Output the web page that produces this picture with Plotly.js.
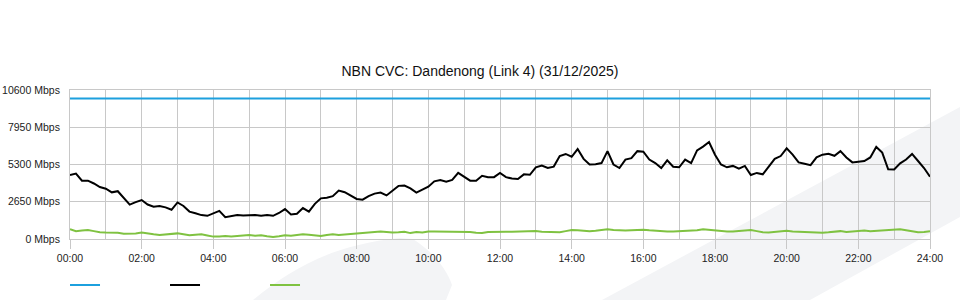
<!DOCTYPE html>
<html><head><meta charset="utf-8">
<script src="https://cdn.plot.ly/plotly-3.0.1.min.js"></script>
<style>html,body{margin:0;padding:0;background:#fff}#chart{width:960px;height:300px}</style>
</head><body><div id="chart"></div>
<script>
// 10-minute samples, 00:00 .. 24:00
const sampleMinutes = 10;
const inboundMbps = [
 4550,4650,4150,4150,3950,3700,3580,3320,3400,2900,2450,2620,2770,2450,2300,2350,2250,2080,
 2600,2350,1950,1830,1700,1650,1830,2000,1550,1650,1700,1680,1700,1700,1660,1700,1650,1850,
 2130,1750,1800,2200,1950,2500,2890,2940,3050,3450,3330,3100,2850,2800,3050,3230,3300,3100,
 3450,3780,3800,3600,3300,3500,3720,4100,4190,4080,4200,4700,4450,4150,4150,4500,4400,4400,
 4700,4400,4300,4270,4600,4570,5100,5220,5050,5150,5900,6050,5850,6400,5700,5300,5320,5400,
 6250,5300,5050,5650,5750,6250,6210,5650,5400,5050,5600,5140,5100,5650,5400,6300,6570,6900,
 6000,5300,5100,5200,5000,5200,4550,4700,4600,5190,5700,5900,6450,6000,5450,5350,5250,5810,
 6000,6060,5920,6250,5800,5450,5500,5550,5800,6550,6150,4960,4950,5380,5650,6050,5550,5050,
 4430
];
const outboundMbps = [
 690,560,600,640,560,480,460,450,450,380,380,400,460,420,330,280,330,400,
 400,330,260,300,330,250,170,180,220,180,200,260,280,240,260,200,150,200,
 260,240,280,330,300,280,210,290,330,280,320,360,380,450,480,520,540,500,
 460,480,520,420,500,460,540,540,540,520,530,520,500,500,450,420,500,520,
 520,520,520,540,560,580,570,520,520,470,480,560,640,620,580,560,580,640,
 690,640,600,600,620,640,660,620,580,560,540,530,540,560,580,620,690,640,
 600,560,540,540,560,600,640,560,480,460,500,530,580,540,520,480,500,460,
 450,480,500,560,500,520,560,600,560,580,620,600,660,690,620,560,480,500,
 560
];
const capacityHours = [0, 24];
const capacityMbps = [10000, 10000];
const tickHours = [0,2,4,6,8,10,12,14,16,18,20,22,24];
const tickLabels = ["00:00","02:00","04:00","06:00","08:00","10:00","12:00","14:00","16:00","18:00","20:00","22:00","24:00"];
const yTicks = [0,2650,5300,7950,10600];
const yTickLabels = ["0 Mbps","2650 Mbps","5300 Mbps","7950 Mbps","10600 Mbps"];
const seriesColors = {capacity:"#1ca0de", inbound:"#000000", outbound:"#7fc241"};

const hours = inboundMbps.map((_, i) => i * sampleMinutes / 60);
const alias = {};
tickHours.forEach((h, i) => { alias[String(h)] = tickLabels[i]; });

const grid = "#c8c8c8";
const font = "Liberation Sans, Arial, Helvetica, sans-serif";

const traces = [
  {x: capacityHours, y: capacityMbps, mode: "lines", name: "", line: {color: seriesColors.capacity, width: 2}, hoverinfo: "skip"},
  {x: hours, y: inboundMbps, mode: "lines", name: "", line: {color: seriesColors.inbound, width: 2}},
  {x: hours, y: outboundMbps, mode: "lines", name: "", line: {color: seriesColors.outbound, width: 2}}
];

const wm = "#f3f4f6";
const layout = {
  width: 960, height: 300,
  margin: {l: 70, r: 30, t: 90, b: 61, pad: 0, autoexpand: false},
  paper_bgcolor: "#ffffff",
  plot_bgcolor: "rgba(0,0,0,0)",
  font: {family: font, size: 10.5, color: "#222"},
  title: {text: "NBN CVC: Dandenong (Link 4) (31/12/2025)", font: {family: font, size: 14, color: "#111"},
          x: 0.5, xref: "container", xanchor: "center", y: 0.763, yref: "container", yanchor: "middle"},
  xaxis: {range: [0, 24], tickmode: "linear", tick0: 0, dtick: 2, labelalias: alias,
          showgrid: true, gridcolor: grid, gridwidth: 1, zeroline: false,
          showline: true, linecolor: grid, linewidth: 1, mirror: true,
          ticks: "outside", ticklen: 9, tickcolor: grid, tickwidth: 1,
          tickfont: {family: font, size: 10.5, color: "#222"},
          minor: {tickmode: "linear", tick0: 0, dtick: 1, showgrid: true, gridcolor: grid, gridwidth: 1, ticks: ""},
          fixedrange: true, automargin: false},
  yaxis: {range: [0, 10600], tickmode: "array", tickvals: yTicks, ticktext: yTickLabels,
          showgrid: true, gridcolor: grid, gridwidth: 1, zeroline: false,
          showline: true, linecolor: grid, linewidth: 1, mirror: true,
          ticks: "outside", ticklen: 7, tickcolor: "rgba(0,0,0,0)",
          tickfont: {family: font, size: 10.5, color: "#222"}, fixedrange: true, automargin: false},
  showlegend: true,
  legend: {orientation: "h", x: -0.0058, xanchor: "left", xref: "paper", y: 0.05, yref: "container", yanchor: "middle",
           entrywidth: 55, entrywidthmode: "pixels", itemwidth: 30,
           font: {family: font, size: 10}, bgcolor: "rgba(0,0,0,0)", traceorder: "normal"},
  shapes: [
    {type: "path", xref: "paper", yref: "paper", layer: "below", line: {width: 0}, fillcolor: wm,
     path: "M0.6186,-0.4094 L1.0349,0.8859 L1.0349,0.1477 L0.8605,-0.4094 Z"},
    {type: "path", xref: "paper", yref: "paper", layer: "below", line: {width: 0}, fillcolor: wm,
     path: "M0.2128,-0.4094 C0.2558,-0.2081 0.3023,-0.0403 0.3837,0.0067 L0.3988,0.0 C0.4186,-0.0738 0.4360,-0.1745 0.4442,-0.3087 L0.4372,-0.4094 Z"}
  ]
};

Plotly.newPlot("chart", traces, layout, {displayModeBar: false, staticPlot: true});
</script>
</body></html>
